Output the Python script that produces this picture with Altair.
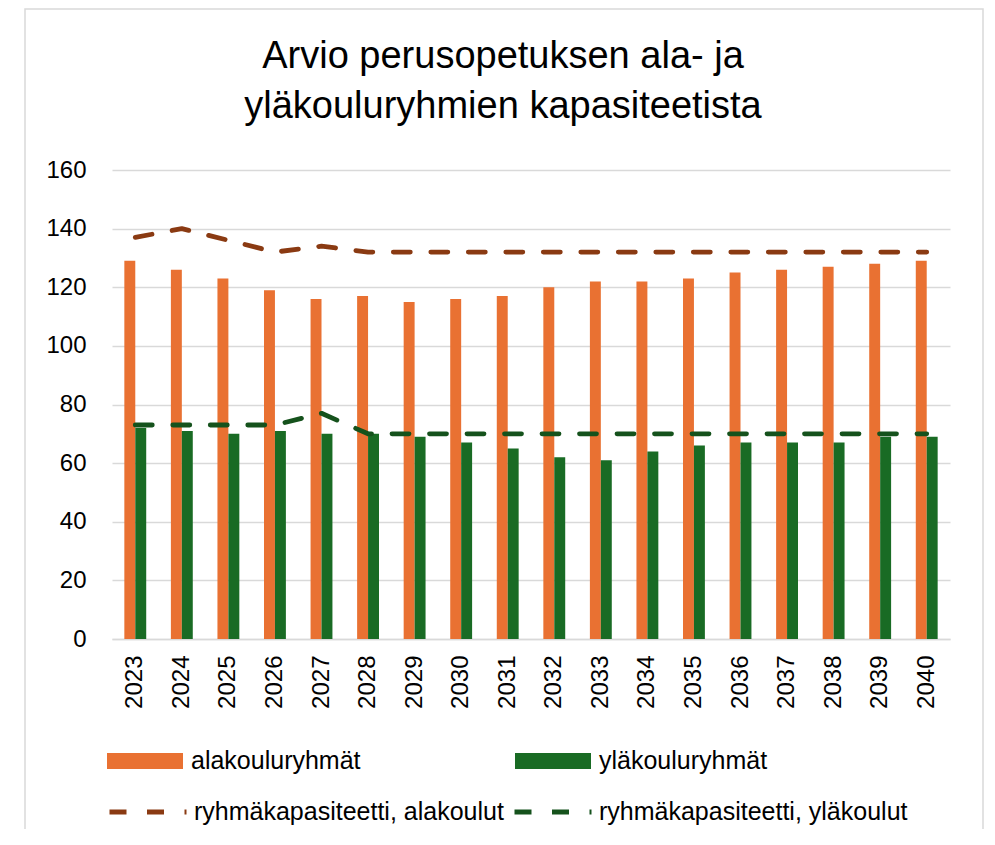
import altair as alt
import pandas as pd

years = [str(y) for y in range(2023, 2041)]
alakouluryhmat = [129, 126, 123, 119, 116, 117, 115, 116, 117, 120, 122, 122, 123, 125, 126, 127, 128, 129]
ylakouluryhmat = [72, 71, 70, 71, 70, 70, 69, 67, 65, 62, 61, 64, 66, 67, 67, 67, 69, 69]
kapasiteetti_ala = [137, 140, 136, 132, 134, 132, 132, 132, 132, 132, 132, 132, 132, 132, 132, 132, 132, 132]
kapasiteetti_yla = [73, 73, 73, 73, 77, 70, 70, 70, 70, 70, 70, 70, 70, 70, 70, 70, 70, 70]

bar_series = ["alakouluryhmät", "yläkouluryhmät"]
line_series = ["ryhmäkapasiteetti, alakoulut", "ryhmäkapasiteetti, yläkoulut"]
y_ticks = [0, 20, 40, 60, 80, 100, 120, 140, 160]
title_lines = ["Arvio perusopetuksen ala- ja", "yläkouluryhmien kapasiteetista"]

ORANGE = "#E97132"
GREEN = "#196B24"
BROWN = "#8A3A12"
DKGREEN = "#15521C"
GRID = "#D9D9D9"
FONT = "Liberation Sans"

bars_df = pd.DataFrame({
    "vuosi": years * 2,
    "sarja": [bar_series[0]] * len(years) + [bar_series[1]] * len(years),
    "arvo": alakouluryhmat + ylakouluryhmat,
})
lines_df = pd.DataFrame({
    "vuosi": years * 2,
    "kapasiteetti": [line_series[0]] * len(years) + [line_series[1]] * len(years),
    "arvo": kapasiteetti_ala + kapasiteetti_yla,
})
one_row = pd.DataFrame({"k": [0]})

x_enc = alt.X(
    "vuosi:N", sort=years, title=None,
    scale=alt.Scale(paddingInner=0.53, paddingOuter=0.265),
    axis=alt.Axis(labelAngle=270, labelPadding=16, domain=True, domainColor=GRID,
                  domainWidth=1.5, ticks=False, grid=False),
)
y_enc = alt.Y(
    "arvo:Q", title=None,
    scale=alt.Scale(domain=[0, 160], nice=False, zero=True),
    axis=alt.Axis(values=y_ticks, labelPadding=26, domain=False, ticks=False,
                  grid=True, gridColor=GRID, gridWidth=1.5),
)

frame = alt.Chart(one_row).mark_rect(
    fillOpacity=0, stroke=GRID, strokeWidth=1.5
).encode(
    x=alt.value(-87), x2=alt.value(871), y=alt.value(-161), y2=alt.value(720)
)

title = alt.Chart(one_row).mark_text(
    text=title_lines, font=FONT, fontSize=38, lineHeight=50,
    baseline="top", align="center", color="#000000"
).encode(x=alt.value(391), y=alt.value(-132))

bars = alt.Chart(bars_df).mark_bar().encode(
    x=x_enc,
    xOffset=alt.XOffset("sarja:N", sort=bar_series,
                        scale=alt.Scale(paddingInner=0, paddingOuter=0)),
    y=y_enc,
    color=alt.Color(
        "sarja:N",
        scale=alt.Scale(domain=bar_series, range=[ORANGE, GREEN]),
        legend=alt.Legend(
            title=None, orient="none", legendX=-5, legendY=553,
            direction="horizontal", columns=2, columnPadding=154,
            symbolType="M-1,-0.21H1V0.21H-1Z", symbolSize=5776,
            symbolStrokeWidth=0, symbolOpacity=1,
            labelFont=FONT, labelFontSize=25, labelColor="#000000",
            labelLimit=600, labelOffset=8,
        ),
    ),
)

lines = alt.Chart(lines_df).mark_line(
    strokeDash=[17, 20.5], strokeWidth=4.8, strokeCap="round", strokeJoin="round"
).encode(
    x=alt.X("vuosi:N", sort=years),
    y=alt.Y("arvo:Q"),
    color=alt.Color(
        "kapasiteetti:N",
        scale=alt.Scale(domain=line_series, range=[BROWN, DKGREEN]),
        legend=alt.Legend(
            title=None, orient="none", legendX=-5, legendY=601,
            direction="horizontal", columns=2, columnPadding=0,
            symbolType="stroke", symbolSize=5929, symbolStrokeWidth=4.8,
            symbolDash=[17, 20.5],
            labelFont=FONT, labelFontSize=25, labelColor="#000000",
            labelLimit=600, labelOffset=5,
        ),
    ),
)

chart = alt.layer(frame, title, bars, lines).resolve_scale(
    color="independent"
).resolve_legend(color="independent").properties(
    width=838, height=469,
    autosize=alt.AutoSizeParams(type="none"),
    padding={"left": 104, "top": 162, "right": 34, "bottom": 190},
).configure_view(stroke=None).configure_axis(
    labelFont=FONT, labelFontSize=24, labelColor="#000000"
)

chart.save("out.html", embed_options={"renderer": "svg", "actions": False})
